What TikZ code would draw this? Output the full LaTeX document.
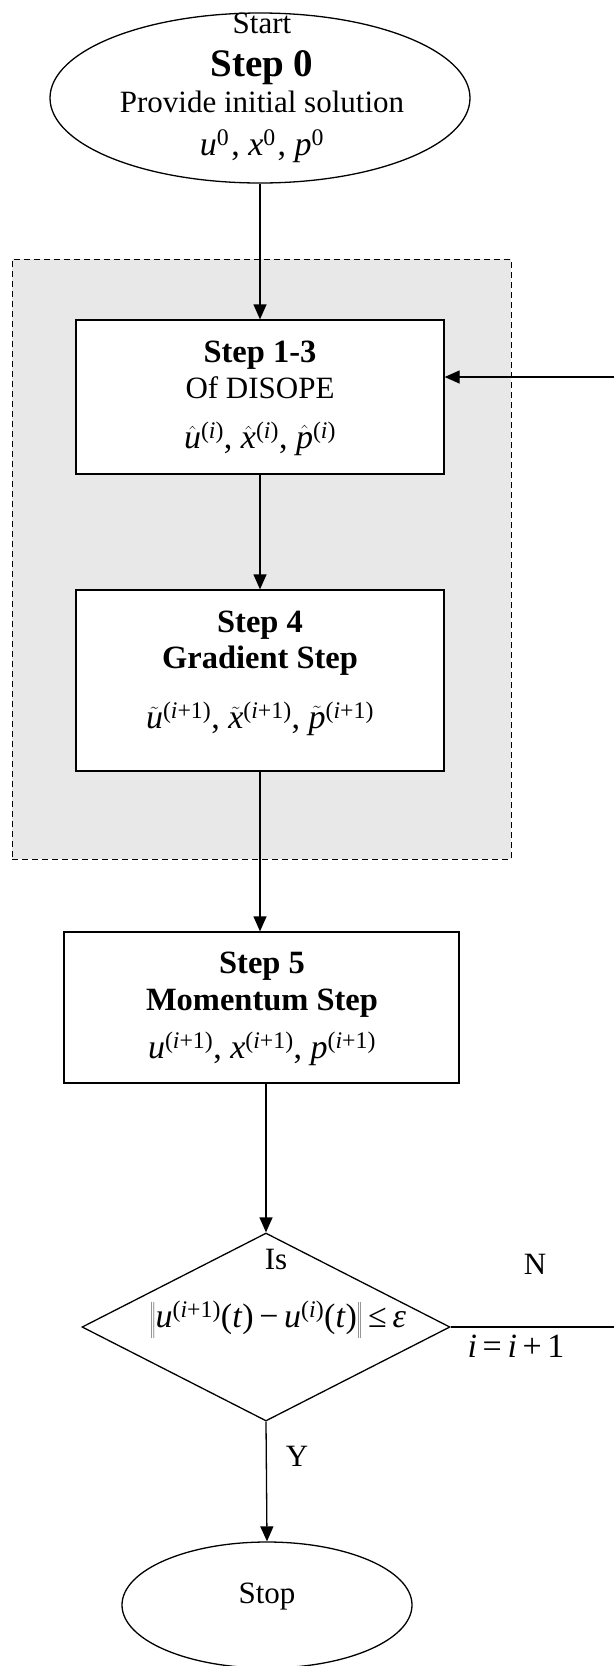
\documentclass[tikz,border=0pt]{standalone}
\usepackage{fontspec}
\setmainfont{Liberation Serif}
\usetikzlibrary{shapes.geometric,arrows.meta}
\newcommand\V[1]{\textit{#1}}
\newcommand\Sp[1]{\textsuperscript{#1}}
\begin{document}
\begin{tikzpicture}[x=1pt,y=-1pt,
  every node/.style={font=\fontsize{31}{37}\selectfont},
  ln/.style={line width=1.3pt},
  arr/.style={ln,-{Triangle[length=15pt,width=13pt]}},
  box/.style={draw,ln,fill=white,rectangle,inner sep=0pt},
  ell/.style={draw,ln,fill=white,ellipse,inner sep=0pt},
  dia/.style={draw,ln,fill=white,diamond,inner sep=0pt},
  region/.style={draw,line width=1pt,dash pattern=on 6pt off 4pt,fill=black!9,rectangle,inner sep=0pt},
  txt/.style={anchor=base,inner sep=0pt},
  ttl/.style={txt,font=\fontsize{32.5}{38}\selectfont\bfseries},
  mth/.style={txt,font=\fontsize{34}{40}\selectfont}]
\useasboundingbox (0,0) rectangle (614,1666);
\node[region,minimum width=499pt,minimum height=600pt] (loop) at (261.5,559) {};
\node[ell,minimum width=420pt,minimum height=170pt] (s0) at (260,98) {};
\node[box,minimum width=368pt,minimum height=154pt] (b1) at (260,397) {};
\node[box,minimum width=368pt,minimum height=181pt] (b2) at (260,680.5) {};
\node[box,minimum width=395pt,minimum height=151pt] (b3) at (261.5,1007.5) {};
\node[dia,minimum width=368pt,minimum height=188pt] (d) at (266,1327) {};
\node[ell,minimum width=290pt,minimum height=126pt] (stop) at (267,1605) {};
% texts
\node[txt] (t0a) at (262,33) {Start};
\node[txt,font=\fontsize{39}{44}\selectfont\bfseries] (t0b) at (262,76) {Step 0};
\node[txt] (t0c) at (262,112) {Provide initial solution};
\node[mth] (t0d) at (262,155) {\V{u}\Sp{0}\kern2pt, \V{x}\Sp{0}\kern2pt, \V{p}\Sp{0}};
\node[ttl] (t1a) at (260,362) {Step 1-3};
\node[txt] (t1b) at (260,398) {Of DISOPE};
\node[mth] (t1c) at (260,448) {$\hat{\mbox{\itshape u}}$\Sp{(\V{i})}, $\hat{\mbox{\itshape x}}$\Sp{(\V{i})}, $\hat{\mbox{\itshape p}}$\Sp{(\V{i})}};
\node[ttl] (t2a) at (260,632) {Step 4};
\node[ttl] (t2b) at (260,668) {Gradient Step};
\node[mth] (t2c) at (260,728) {$\tilde{\mbox{\itshape u}}$\Sp{(\V{i}+1)}, $\tilde{\mbox{\itshape x}}$\Sp{(\V{i}+1)}, $\tilde{\mbox{\itshape p}}$\Sp{(\V{i}+1)}};
\node[ttl] (t3a) at (262,973) {Step 5};
\node[ttl] (t3b) at (262,1010) {Momentum Step};
\node[mth] (t3c) at (262,1058) {\V{u}\Sp{(\V{i}+1)}, \V{x}\Sp{(\V{i}+1)}, \V{p}\Sp{(\V{i}+1)}};
\node[txt] (tis) at (276,1269) {Is};
\node[mth] (tnorm) at (278,1327) {$\left\Vert\mbox{\V{u}\Sp{(\V{i}+1)}(\V{t})\,−\,\V{u}\Sp{(\V{i})}(\V{t})}\right\Vert$\,≤\,\V{ε}};
\node[txt] (tN) at (535,1274) {N};
\node[mth] (tinc) at (516,1357) {\V{i}\,=\,\V{i}\,+\,1};
\node[txt] (tY) at (297,1466) {Y};
\node[txt] (tstop) at (267,1603) {Stop};
% connectors
\draw[arr] (s0.south) -- (b1.north);
\draw[arr] (b1.south) -- (b2.north);
\draw[arr] (b2.south) -- (b2.south |- b3.north);
\draw[arr] (d.north |- b3.south) -- (d.north);
\draw[arr] (d.south) -- (stop.north);
\coordinate (fbA) at (614,1327);
\coordinate (fbB) at (614,377);
\draw[ln] (d.east) -- (fbA);
\draw[arr] (fbB) -- (fbB -| b1.east);
\end{tikzpicture}
\end{document}
